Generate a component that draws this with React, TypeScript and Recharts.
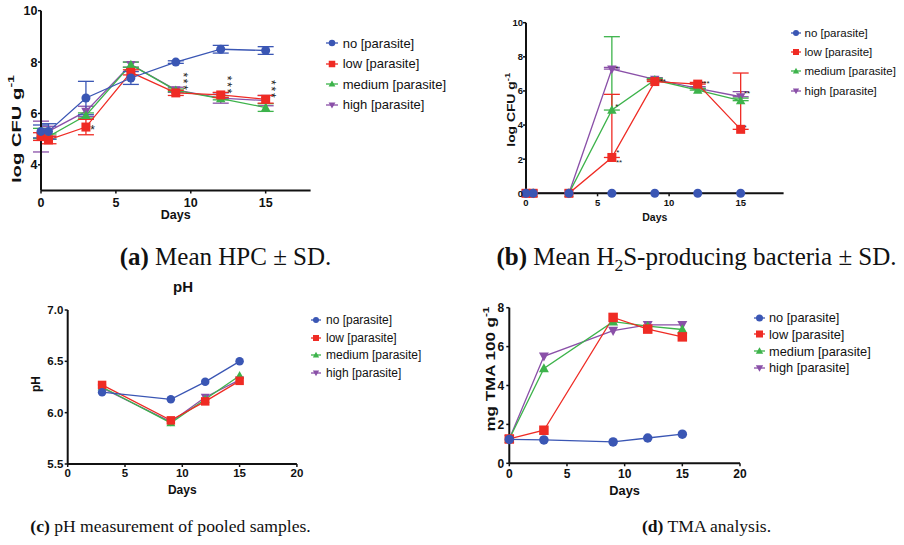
import React from "react";
import { ComposedChart, Line, XAxis, YAxis, ErrorBar, Scatter, Legend } from "recharts";

const BLUE = "#3a56b4", RED = "#ef2b24", GREEN = "#3db34b", PURPLE = "#8a50a8";
const INK = "#111";
const FONT = "'Liberation Sans', Arial, sans-serif";
const SERIF = "'Liberation Serif', 'Times New Roman', serif";

const SERIES = [
  { key: "no", name: "no [parasite]", color: BLUE, shape: "circle" },
  { key: "low", name: "low [parasite]", color: RED, shape: "square" },
  { key: "medium", name: "medium [parasite]", color: GREEN, shape: "up" },
  { key: "high", name: "high [parasite]", color: PURPLE, shape: "down" },
];
const DRAW_ORDER = [3, 2, 1, 0];

// (a) mean HPC
const hpcDays = [0, 0.5, 3, 6, 9, 12, 15];
const hpcNo = [5.3, 5.3, 6.6, 7.38, 8.0, 8.5, 8.45];
const hpcLow = [5.1, 4.97, 5.47, 7.6, 6.8, 6.72, 6.55];
const hpcMedium = [5.22, 5.1, 5.92, 7.9, 6.9, 6.58, 6.23];
const hpcHigh = [5.1, 5.3, 6.08, 7.9, 6.92, 6.6, 6.5];
const hpcNoSd = [0.25, 0.3, 0.65, 0.25, 0.05, 0.15, 0.15];
const hpcLowSd = [0.15, 0.15, 0.3, 0.1, 0.1, 0.1, 0.15];
const hpcMediumSd = [0.2, 0.1, 0.1, 0.1, 0.05, 0.05, 0.15];
const hpcHighSd = [0.6, 0.2, 0.2, 0.1, 0.1, 0.2, 0.2];
// significance marks; the "***" at day 9/12/15 are stacked vertically
const hpcStarDay = [3.45, 9.66, 12.57, 15.5];
const hpcStarY = [5.47, 7.22, 7.09, 6.92];
const hpcStarText = ["*", "***", "***", "***"];

// (b) H2S-producing bacteria
const h2sDays = [0, 0.5, 3, 6, 9, 12, 15];
const h2sNo = [0, 0, 0, 0, 0, 0, 0];
const h2sLow = [0, 0, 0, 2.1, 6.55, 6.4, 3.75];
const h2sMedium = [0, 0, 0, 4.88, 6.64, 6.05, 5.43];
const h2sHigh = [0, 0, 0, 7.28, 6.68, 6.15, 5.66];
const h2sLowSd = [null, null, null, 3.7, 0.1, 0.1, 3.3];
const h2sMediumSd = [null, null, null, 4.3, 0.1, 0.1, 0.15];
const h2sHighSd = [null, null, null, 0.1, 0.1, 0.1, 0.3];
const h2sStarDay = [6.34, 6.34, 6.42, 6.5, 9.45, 12.5, 15.45, 15.3];
const h2sStarY = [7.42, 5.23, 2.5, 1.95, 6.68, 6.54, 5.96, 4.0];
const h2sStarText = ["*", "*", "*", "**", "***", "***", "**", "*"];

// (c) pH
const phDays = [3, 9, 12, 15];
const phNo = [6.2, 6.13, 6.3, 6.5];
const phLow = [6.27, 5.925, 6.11, 6.31];
const phMedium = [6.25, 5.9, 6.13, 6.36];
const phHigh = [6.24, 5.91, 6.15, 6.32];

// (d) TMA
const tmaDays = [0, 3, 9, 12, 15];
const tmaNo = [1.23, 1.2, 1.1, 1.3, 1.5];
const tmaLow = [1.25, 1.7, 7.5, 6.9, 6.5];
const tmaMedium = [1.25, 4.88, 7.28, 7.05, 6.88];
const tmaHigh = [1.25, 5.5, 6.82, 7.12, 7.12];

function buildRows(days: number[], vals: Record<string, number[]>, sds?: Record<string, any[]>) {
  return days.map((d, i) => {
    const row: any = { day: d };
    for (const k in vals) row[k] = vals[k][i];
    if (sds) for (const k in sds) row[k + "Sd"] = sds[k][i];
    return row;
  });
}

const upOnly = (arr: (number | null)[]) => arr.map((v) => (v == null ? null : [0, v]));

const stars = (days: number[], ys: number[], texts: string[]) =>
  days.map((d, i) => ({ day: d, y: ys[i], t: texts[i] }));

function Marker({ cx, cy, shape, color, size }: any) {
  const h = size / 2;
  if (shape === "circle") return <circle cx={cx} cy={cy} r={h} fill={color} />;
  if (shape === "square") return <rect x={cx - h} y={cy - h} width={size} height={size} fill={color} />;
  if (shape === "up")
    return <polygon points={`${cx},${cy - h * 1.1} ${cx - h * 1.05},${cy + h * 0.8} ${cx + h * 1.05},${cy + h * 0.8}`} fill={color} />;
  return <polygon points={`${cx},${cy + h * 1.1} ${cx - h * 1.05},${cy - h * 0.8} ${cx + h * 1.05},${cy - h * 0.8}`} fill={color} />;
}

function YTitle(props: any) {
  const { viewBox, text, sup, off, shift, len, fs } = props;
  const cx = viewBox.x + viewBox.width - off;
  const cy = viewBox.y + viewBox.height / 2 + shift;
  return (
    <text transform={`translate(${cx},${cy}) rotate(-90)`} textAnchor="middle" dominantBaseline="central"
      fontSize={fs} fontWeight="bold" fontFamily={FONT} fill={INK}
      {...(len ? { textLength: len, lengthAdjust: "spacingAndGlyphs" } : {})}>
      {text}
      {sup && <tspan dy={-fs * 0.4} fontSize={fs * 0.7}>{sup}</tspan>}
    </text>
  );
}

function XTitle(props: any) {
  const { viewBox, dy, fs } = props;
  return (
    <text x={viewBox.x + viewBox.width / 2} y={viewBox.y + dy} textAnchor="middle" dominantBaseline="central"
      fontSize={fs} fontWeight="bold" fontFamily={FONT} fill={INK}>
      Days
    </text>
  );
}

function LegendBox({ fs, rowH, iconW, gap, msize }: any) {
  return (
    <div style={{ fontFamily: FONT, fontSize: fs, color: "#111" }}>
      {SERIES.map((s) => (
        <div key={s.key} style={{ display: "flex", alignItems: "center", height: rowH, whiteSpace: "nowrap" }}>
          <svg width={iconW} height={12} style={{ marginRight: gap, flex: "none" }}>
            <line x1={0} x2={iconW} y1={6} y2={6} stroke={s.color} strokeWidth={1.3} />
            <Marker cx={iconW / 2} cy={6} shape={s.shape} color={s.color} size={msize} />
          </svg>
          <span>{s.name}</span>
        </div>
      ))}
    </div>
  );
}

// asterisk text; a stacked mark is the same string turned upright
function StarMark({ cx, cy, payload, fs, stack }: any) {
  if (stack && payload.t.length > 1) {
    return (
      <text transform={`translate(${cx},${cy}) rotate(90)`} dy={fs * 0.2} textAnchor="middle" dominantBaseline="central"
        fontSize={fs} fontFamily={FONT} fill="#222" letterSpacing={fs * 0.15}>
        {payload.t}
      </text>
    );
  }
  return (
    <text x={cx} y={cy + fs * 0.57} textAnchor="middle" fontSize={fs} fontFamily={FONT} fill="#222">
      {payload.t}
    </text>
  );
}

function Panel(p: any) {
  const tick = { fontSize: p.tickFs, fontWeight: "bold", fill: INK, fontFamily: FONT };
  return (
    <div style={{ position: "absolute", left: p.left, top: p.top }}>
      <ComposedChart width={p.width} height={p.height} data={p.rows} margin={p.margin}>
        <XAxis dataKey="day" type="number" domain={p.xDomain} ticks={p.xTicks} interval={0} height={30}
          tick={tick} tickSize={3} tickMargin={p.xTickMargin}
          axisLine={{ stroke: INK, strokeWidth: 2 }} tickLine={{ stroke: INK, strokeWidth: 1.5 }}
          label={<XTitle dy={p.xTitle.dy} fs={p.xTitle.fs} />} />
        <YAxis type="number" domain={p.yDomain} ticks={p.yTicks} interval={0} width={p.yw}
          tick={tick} tickSize={3} tickMargin={p.yTickMargin} tickFormatter={p.yFmt}
          axisLine={{ stroke: INK, strokeWidth: 2 }} tickLine={{ stroke: INK, strokeWidth: 1.5 }}
          label={<YTitle {...p.yTitle} />} />
        {DRAW_ORDER.map((i) => {
          const s = SERIES[i];
          return (
            <Line key={s.key} dataKey={s.key} stroke={s.color} strokeWidth={1.3} isAnimationActive={false}
              activeDot={false} legendType="none"
              dot={(d: any) => <Marker key={`${s.key}-${d.index}`} cx={d.cx} cy={d.cy} shape={s.shape} color={s.color} size={p.msize} />}>
              {p.sdKeys && p.sdKeys.includes(s.key) && (
                <ErrorBar dataKey={s.key + "Sd"} width={8} stroke={s.color} strokeWidth={1.3} direction="y" isAnimationActive={false} />
              )}
            </Line>
          );
        })}
        {p.stars && (
          <Scatter data={p.stars} dataKey="y" isAnimationActive={false} legendType="none"
            shape={(d: any) => <StarMark {...d} fs={p.starFs} stack={p.starStack} />} />
        )}
        <Legend layout="vertical" align="center" verticalAlign="middle"
          wrapperStyle={{ left: p.legend.left, top: p.legend.top, width: "auto" }}
          content={() => <LegendBox {...p.legend} />} />
      </ComposedChart>
    </div>
  );
}

const captionStyle: React.CSSProperties = {
  position: "absolute", fontFamily: SERIF, fontSize: 17.6, lineHeight: "22px",
  color: "#111", whiteSpace: "nowrap", transform: "translateX(-50%)",
};
// the top row's captions come out larger in the reference
const topCaption: React.CSSProperties = { ...captionStyle, fontSize: 25, lineHeight: "30px" };

export default function App() {
  const hpcRows = buildRows(hpcDays, { no: hpcNo, low: hpcLow, medium: hpcMedium, high: hpcHigh },
    { no: hpcNoSd, low: hpcLowSd, medium: hpcMediumSd, high: hpcHighSd });
  const h2sRows = buildRows(h2sDays, { no: h2sNo, low: h2sLow, medium: h2sMedium, high: h2sHigh },
    { low: upOnly(h2sLowSd), medium: upOnly(h2sMediumSd), high: upOnly(h2sHighSd) });
  const phRows = buildRows(phDays, { no: phNo, low: phLow, medium: phMedium, high: phHigh });
  const tmaRows = buildRows(tmaDays, { no: tmaNo, low: tmaLow, medium: tmaMedium, high: tmaHigh });

  return (
    <div style={{ position: "absolute", left: 0, top: 0, width: 904, height: 545, background: "#fff", overflow: "hidden" }}>
      <Panel left={0} top={0} width={470} height={235} yw={41}
        margin={{ top: 10.7, right: 159.4, bottom: 14.5, left: 0 }}
        rows={hpcRows} sdKeys={["no", "low", "medium", "high"]}
        xDomain={[0, 18]} xTicks={[0, 5, 10, 15]} yDomain={[3, 10]} yTicks={[4, 6, 8, 10]}
        tickFs={12.5} xTickMargin={5} yTickMargin={0.5} msize={9}
        xTitle={{ dy: 24.5, fs: 12.5 }}
        yTitle={{ text: "log CFU g", sup: "-1", off: 24.5, shift: 28.4, len: 108, fs: 13 }}
        stars={stars(hpcStarDay, hpcStarY, hpcStarText)} starFs={12} starStack
        legend={{ left: 326, top: 33, rowH: 20.5, fs: 13, iconW: 12, gap: 4.7, msize: 6.5 }} />

      <Panel left={470} top={0} width={434} height={235} yw={56}
        margin={{ top: 22.7, right: 120.4, bottom: 11.7, left: 0 }}
        rows={h2sRows} sdKeys={["low", "medium", "high"]}
        xDomain={[0, 18]} xTicks={[0, 5, 10, 15]} yDomain={[0, 10]} yTicks={[0, 2, 4, 6, 8, 10]}
        tickFs={9.5} xTickMargin={3} yTickMargin={0} msize={9}
        xTitle={{ dy: 23.4, fs: 10.5 }}
        yTitle={{ text: "log CFU g", sup: "-1", off: 15, shift: 1.7, len: 74, fs: 10.5 }}
        stars={stars(h2sStarDay, h2sStarY, h2sStarText)} starFs={8}
        legend={{ left: 321, top: 23, rowH: 19.3, fs: 11.5, iconW: 10, gap: 3.5, msize: 6 }} />

      <Panel left={0} top={270} width={470} height={230} yw={67.7}
        margin={{ top: 40, right: 173.1, bottom: 6, left: 0 }}
        rows={phRows}
        xDomain={[0, 20]} xTicks={[0, 5, 10, 15, 20]} yDomain={[5.5, 7.0]} yTicks={[5.5, 6.0, 6.5, 7.0]}
        yFmt={(v: number) => v.toFixed(1)}
        tickFs={11.5} xTickMargin={2.2} yTickMargin={1.4} msize={8.5}
        xTitle={{ dy: 26, fs: 12 }}
        yTitle={{ text: "pH", off: 31.7, shift: -3, fs: 12 }}
        legend={{ left: 311, top: 41.2, rowH: 17.7, fs: 12, iconW: 10, gap: 5, msize: 6 }} />
      <div style={{ position: "absolute", left: 183, top: 277, transform: "translateX(-50%)", fontFamily: FONT,
        fontWeight: "bold", fontSize: 15, lineHeight: "20px", color: INK }}>pH</div>

      <Panel left={470} top={270} width={434} height={230} yw={39.3}
        margin={{ top: 37.7, right: 164, bottom: 6.7, left: 0 }}
        rows={tmaRows}
        xDomain={[0, 20]} xTicks={[0, 5, 10, 15, 20]} yDomain={[0, 8]} yTicks={[0, 2, 4, 6, 8]}
        tickFs={12} xTickMargin={2.7} yTickMargin={2} msize={9.5}
        xTitle={{ dy: 26.7, fs: 12.8 }}
        yTitle={{ text: "mg TMA 100 g", sup: "-1", off: 18.3, shift: -16.5, len: 125, fs: 12.5 }}
        legend={{ left: 284, top: 39.4, rowH: 16.7, fs: 12.8, iconW: 11, gap: 4, msize: 7 }} />

      <div style={{ ...topCaption, left: 225.5, top: 242 }}><b>(a)</b> Mean HPC ± SD.</div>
      <div style={{ ...topCaption, left: 696.5, top: 242 }}>
        <b>(b)</b> Mean H<sub style={{ fontSize: "0.7em" }}>2</sub>S-producing bacteria ± SD.
      </div>
      <div style={{ ...captionStyle, left: 170.5, top: 515 }}><b>(c)</b> pH measurement of pooled samples.</div>
      <div style={{ ...captionStyle, left: 706.5, top: 515 }}><b>(d)</b> TMA analysis.</div>
    </div>
  );
}
